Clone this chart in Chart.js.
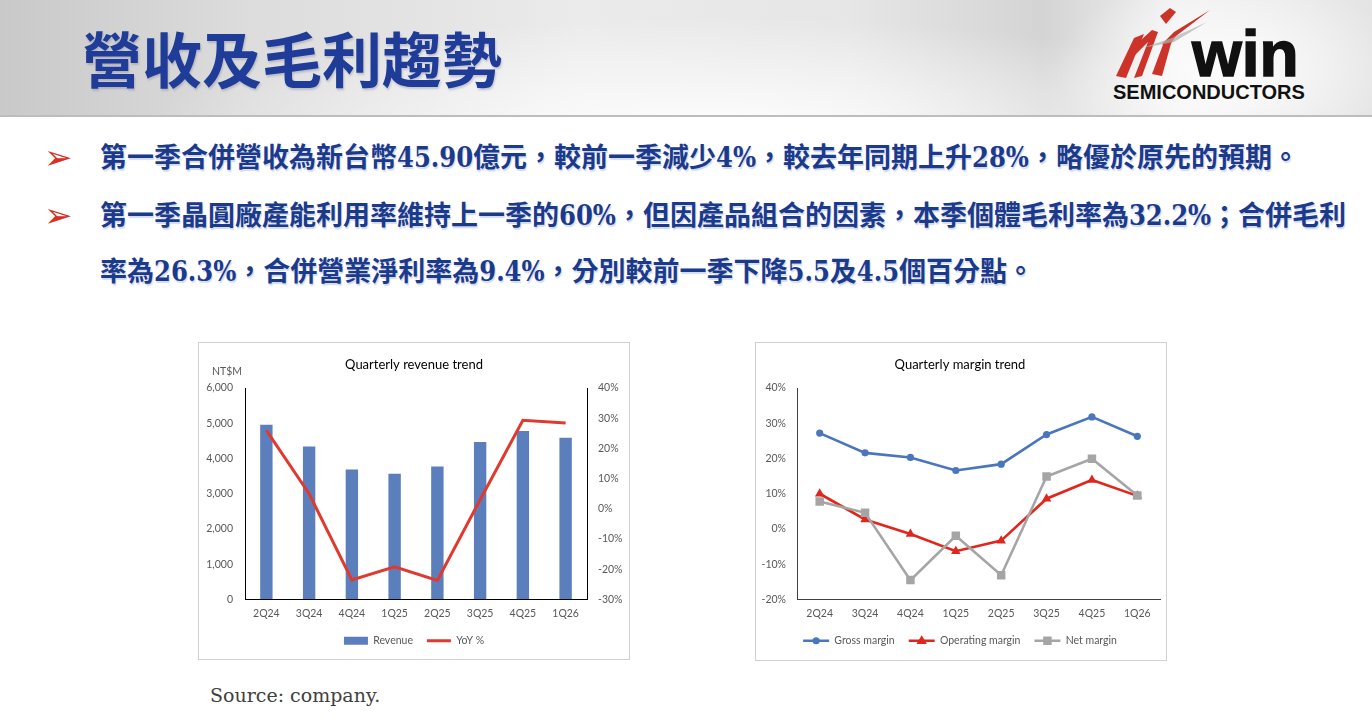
<!DOCTYPE html>
<html lang="zh-Hant">
<head>
<meta charset="utf-8">
<title>營收及毛利趨勢</title>
<script src="https://cdn.jsdelivr.net/npm/chart.js"></script>
<style>
  html, body { margin: 0; padding: 0; }
  body {
    width: 1372px; height: 726px; position: relative; overflow: hidden;
    background: #fff; font-family: "Noto Sans CJK TC", sans-serif;
  }
  .header {
    position: absolute; left: 0; top: 0; width: 1372px; height: 115px;
    background:
      radial-gradient(ellipse 760px 150px at 720px 130px, rgba(255,255,255,0.95), rgba(255,255,255,0) 75%),
      radial-gradient(ellipse 220px 120px at 1230px 70px, rgba(255,255,255,0.9), rgba(255,255,255,0) 80%),
      linear-gradient(90deg, #c9c9c9 0%, #dcdcdc 18%, #ebebeb 42%, #e6e6e6 62%, #d4d4d4 76%, #f1f1f1 86%, #e4e4e4 100%);
    border-bottom: 2px solid #bdbdbd;
  }
  .title {
    position: absolute; left: 82px; top: 21px; font-size: 60px; line-height: 72px;
    font-weight: 700; color: #1e3c98; white-space: nowrap;
    text-shadow: 1px 2px 2px rgba(80, 80, 120, 0.25);
  }
  .logo-win {
    position: absolute; left: 1192px; top: 22px; font-family: "Liberation Sans", sans-serif;
    font-weight: 700; font-size: 64px; line-height: 64px; color: #111;
    -webkit-text-stroke: 1.5px #111;
  }
  .logo-sub {
    position: absolute; left: 1113px; top: 81px; font-family: "Liberation Sans", sans-serif;
    font-weight: 700; font-size: 20px; line-height: 22px; color: #111; white-space: nowrap;
  }
  .swoosh { position: absolute; left: 1112px; top: 4px; }
  .bullet {
    position: absolute; left: 44px; font-family: "DejaVu Sans", sans-serif;
    font-size: 34px; line-height: 36px; color: #d9301f;
  }
  .line {
    position: absolute; left: 100px;
    font-family: "DejaVu Serif Condensed", "DejaVu Serif", "Noto Sans CJK TC", serif;
    font-weight: 700; font-size: 27px; line-height: 36px; color: #1b3a8c; white-space: nowrap;
    text-shadow: 1px 2px 1px rgba(110, 135, 200, 0.3);
  }
  .line .cjk { font-family: "Noto Sans CJK TC", sans-serif; }
  .box { position: absolute; border: 1px solid #d0d0d0; background: #fff; }
  .box canvas { display: block; }
  .unit {
    position: absolute; left: 212px; top: 365px; font-family: Lato, "Liberation Sans", sans-serif;
    font-size: 10.5px; color: #595959;
  }
  .source {
    position: absolute; left: 210px; top: 682px; font-family: "DejaVu Serif", serif;
    font-size: 19px; line-height: 26px; color: #404040;
  }
</style>
</head>
<body>
<div class="header">
  <div class="title">營收及毛利趨勢</div>
  <svg class="swoosh" width="100" height="80" viewBox="0 0 100 80">
    <path d="M4 72 L22 34 L32 30 L14 74 Z" fill="#cc3329"/>
    <path d="M18 46 L40 26 L46 28 L30 72 L22 74 L36 38 L22 52 Z" fill="#cc3329"/>
    <path d="M40 70 L52 38 L60 36 L50 72 Z" fill="#cc3329"/>
    <path d="M50 40 L62 28 L98 6 L64 32 L56 44 Z" fill="#cc3329"/>
    <path d="M30 44 L60 34 L95 18 L62 38 Z" fill="#b0b0b0" opacity="0.7"/>
    <path d="M48 12 L58 4 L64 8 L54 20 Z" fill="#cc3329"/>
  </svg>
  <div class="logo-win">win</div>
  <div class="logo-sub">SEMICONDUCTORS</div>
</div>

<div class="bullet" style="top:139px">➢</div>
<div class="line" style="top:140px">第一季合併營收為新台幣45.90億元，較前一季減少4%，較去年同期上升28%，略優於原先的預期。</div>
<div class="bullet" style="top:197px">➢</div>
<div class="line" style="top:198px">第一季晶圓廠產能利用率維持上一季的60%，但因產品組合的因素，本季個體毛利率為32.2%；合併毛利</div>
<div class="line" style="top:254px">率為26.3%，合併營業淨利率為9.4%，分別較前一季下降5.5及4.5個百分點。</div>

<div class="box" style="left:198px; top:342px; width:430px; height:316px;">
  <canvas id="revenue" width="430" height="316"></canvas>
</div>
<div class="unit">NT$M</div>

<div class="box" style="left:755px; top:342px; width:410px; height:317px;">
  <canvas id="margin" width="410" height="317"></canvas>
</div>

<div class="source">Source: company.</div>

<script>
// DATA

const quarters = ['2Q24', '3Q24', '4Q24', '1Q25', '2Q25', '3Q25', '4Q25', '1Q26'];
const revenue = [4960, 4340, 3690, 3570, 3770, 4470, 4780, 4590];
const revenueYoY = [26.0, 5.0, -23.5, -19.2, -23.7, 3.0, 29.3, 28.4];

const grossMargin = [27.2, 21.6, 20.3, 16.6, 18.4, 26.8, 31.8, 26.3];
const operatingMargin = [10.0, 2.7, -1.4, -6.3, -3.3, 8.6, 13.9, 9.4];
const netMargin = [7.8, 4.6, -14.5, -1.9, -13.1, 14.9, 19.9, 9.5];

const revenueTicks = [0, 1000, 2000, 3000, 4000, 5000, 6000];
const yoyTicks = [-30, -20, -10, 0, 10, 20, 30, 40];
const marginTicks = [-20, -10, 0, 10, 20, 30, 40];

// SHARED

Chart.defaults.font.family = 'Lato, "Liberation Sans", sans-serif';
Chart.defaults.font.size = 10.5;
Chart.defaults.color = '#595959';
Chart.defaults.animation = false;
Chart.defaults.responsive = false;

const tickFont = { size: 10.5 };

function byIndex(chart) {
  const items = Chart.defaults.plugins.legend.labels.generateLabels(chart);
  items.sort((a, b) => a.datasetIndex - b.datasetIndex);
  items.forEach(item => {
    const ds = chart.data.datasets[item.datasetIndex];
    if (ds.type === 'bar') {
      item.pointStyle = 'rect';
      item.lineWidth = 0;
      item.fillStyle = ds.backgroundColor;
    } else {
      item.pointStyle = 'line';
      item.lineWidth = ds.borderWidth;
      item.strokeStyle = ds.borderColor;
    }
    item.rotation = 0;
  });
  return items;
}

function drawMarker(ctx, style, r, x, y) {
  ctx.beginPath();
  if (style === 'circle') {
    ctx.arc(x, y, r, 0, Math.PI * 2);
  } else if (style === 'triangle') {
    ctx.moveTo(x, y - r);
    ctx.lineTo(x + r * 0.95, y + r * 0.6);
    ctx.lineTo(x - r * 0.95, y + r * 0.6);
    ctx.closePath();
  } else {
    const s = r * Math.SQRT1_2;
    ctx.rect(x - s, y - s, s * 2, s * 2);
  }
  ctx.fill();
}

// draws the marker in the middle of each legend line
const legendMarkers = {
  id: 'legendMarkers',
  afterDraw(chart) {
    const legend = chart.legend;
    if (!legend || !legend.legendHitBoxes) return;
    const ctx = chart.ctx;
    const w = legend.options.labels.pointStyleWidth;
    legend.legendItems.forEach((item, i) => {
      const ds = chart.data.datasets[item.datasetIndex];
      const box = legend.legendHitBoxes[i];
      ctx.save();
      ctx.fillStyle = ds.pointBackgroundColor;
      drawMarker(ctx, ds.pointStyle, ds.pointRadius, box.left + w / 2, box.top + box.height / 2);
      ctx.restore();
    });
  }
};

// REVENUE

new Chart(document.getElementById('revenue'), {
  data: {
    labels: quarters,
    datasets: [{
      type: 'bar',
      label: 'Revenue',
      data: revenue,
      backgroundColor: '#5b7fbc',
      categoryPercentage: 1,
      barPercentage: 0.29,
      yAxisID: 'y',
      order: 1
    }, {
      type: 'line',
      label: 'YoY %',
      data: revenueYoY,
      borderColor: '#e03a2f',
      backgroundColor: '#e03a2f',
      borderWidth: 3,
      pointRadius: 0,
      tension: 0,
      yAxisID: 'y1',
      order: 0
    }]
  },
  options: {
    layout: { padding: { top: 0, left: 0, right: 0, bottom: 3 } },
    plugins: {
      title: {
        display: true,
        text: 'Quarterly revenue trend',
        color: '#000',
        font: { size: 13, weight: 'normal' },
        padding: { top: 14, bottom: 15.4 }
      },
      legend: {
        position: 'bottom',
        labels: {
          usePointStyle: true,
          pointStyleWidth: 24,
          boxHeight: 8,
          padding: 14,
          color: '#595959',
          font: { size: 10.5 },
          generateLabels: byIndex
        }
      },
      tooltip: { enabled: false }
    },
    scales: {
      x: {
        offset: true,
        grid: { display: true, drawOnChartArea: false, drawTicks: false },
        border: { display: true, color: '#000', width: 1 },
        ticks: { font: tickFont, padding: 8, maxRotation: 0 },
        afterFit(scale) { scale.height = 22; }
      },
      y: {
        position: 'left',
        min: revenueTicks[0],
        max: revenueTicks[revenueTicks.length - 1],
        grid: { display: true, drawOnChartArea: false, drawTicks: false },
        border: { display: true, color: '#000', width: 1 },
        ticks: {
          stepSize: 1000,
          font: tickFont,
          padding: 12,
          callback: v => v.toLocaleString('en-US')
        },
        afterFit(scale) { scale.width = 46; }
      },
      y1: {
        position: 'right',
        min: yoyTicks[0],
        max: yoyTicks[yoyTicks.length - 1],
        grid: { display: true, drawOnChartArea: false, drawTicks: false },
        border: { display: true, color: '#000', width: 1 },
        ticks: {
          stepSize: 10,
          font: tickFont,
          padding: 11,
          callback: v => v + '%'
        },
        afterFit(scale) { scale.width = 42; }
      }
    }
  }
});

// MARGIN

new Chart(document.getElementById('margin'), {
  type: 'line',
  data: {
    labels: quarters,
    datasets: [{
      label: 'Gross margin',
      data: grossMargin,
      borderColor: '#4a76bd',
      backgroundColor: '#4a76bd',
      pointBackgroundColor: '#4a76bd',
      pointBorderWidth: 0,
      pointStyle: 'circle',
      pointRadius: 3.6,
      borderWidth: 2.6,
      tension: 0,
      order: 2
    }, {
      label: 'Operating margin',
      data: operatingMargin,
      borderColor: '#e0271d',
      backgroundColor: '#e0271d',
      pointBackgroundColor: '#e0271d',
      pointBorderWidth: 0,
      pointStyle: 'triangle',
      pointRadius: 5.5,
      borderWidth: 2.6,
      tension: 0,
      order: 1
    }, {
      label: 'Net margin',
      data: netMargin,
      borderColor: '#a5a5a5',
      backgroundColor: '#a5a5a5',
      pointBackgroundColor: '#a5a5a5',
      pointBorderWidth: 0,
      pointStyle: 'rect',
      pointRadius: 6,
      borderWidth: 2.6,
      tension: 0,
      order: 0
    }]
  },
  options: {
    layout: { padding: { top: 0, left: 0, right: 2, bottom: 4 } },
    plugins: {
      title: {
        display: true,
        text: 'Quarterly margin trend',
        color: '#000',
        font: { size: 13, weight: 'normal' },
        padding: { top: 14, bottom: 15.4 }
      },
      legend: {
        position: 'bottom',
        labels: {
          usePointStyle: true,
          pointStyleWidth: 26,
          boxHeight: 8,
          padding: 14,
          color: '#595959',
          font: { size: 10.5 },
          generateLabels: byIndex
        }
      },
      tooltip: { enabled: false }
    },
    scales: {
      x: {
        offset: true,
        grid: { display: true, drawOnChartArea: false, drawTicks: false },
        border: { display: true, color: '#404040', width: 1 },
        ticks: { font: tickFont, padding: 8, maxRotation: 0 },
        afterFit(scale) { scale.height = 22; }
      },
      y: {
        min: marginTicks[0],
        max: marginTicks[marginTicks.length - 1],
        grid: { display: true, drawOnChartArea: false, drawTicks: false },
        border: { display: true, color: '#404040', width: 1 },
        ticks: {
          stepSize: 10,
          font: tickFont,
          padding: 11,
          callback: v => v + '%'
        },
        afterFit(scale) { scale.width = 41; }
      }
    }
  },
  plugins: [legendMarkers]
});
</script>
</body>
</html>
